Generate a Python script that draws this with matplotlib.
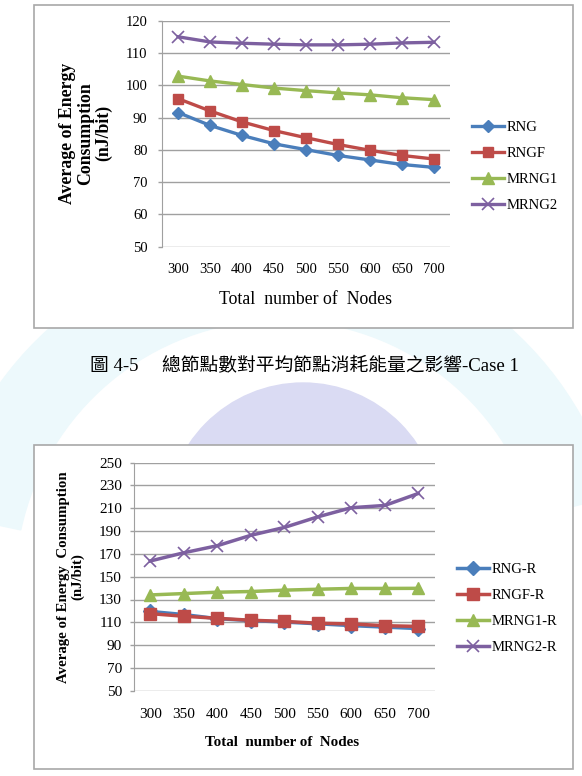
import matplotlib
matplotlib.use('Agg')
import matplotlib.pyplot as plt
from matplotlib.patches import Rectangle, Ellipse, Wedge

plt.rcParams['font.family'] = ['Liberation Serif', 'Noto Sans CJK TC']

# data
nodes = ['300', '350', '400', '450', '500', '550', '600', '650', '700']

# case 1
rng = [91.6, 87.6, 84.5, 81.9, 80.1, 78.3, 76.9, 75.5, 74.6]
rngf = [95.9, 92.1, 88.7, 86.0, 83.8, 81.7, 79.9, 78.3, 77.2]
mrng1 = [102.9, 101.4, 100.3, 99.2, 98.4, 97.7, 97.1, 96.2, 95.6]
mrng2 = [115.1, 113.5, 113.1, 112.8, 112.6, 112.6, 112.8, 113.2, 113.4]
names1 = ['RNG', 'RNGF', 'MRNG1', 'MRNG2']

# case R
rng_r = [119.5, 116.8, 113.2, 111.5, 110.2, 108.7, 107.1, 105.8, 104.5]
rngf_r = [117.6, 115.3, 113.5, 111.8, 110.8, 109.2, 108.6, 107.0, 106.4]
mrng1_r = [134.0, 135.2, 136.4, 137.0, 138.2, 139.0, 139.7, 139.7, 139.8]
mrng2_r = [163.8, 171.0, 177.2, 186.3, 193.2, 202.5, 210.5, 212.5, 223.0]
names2 = ['RNG-R', 'RNGF-R', 'MRNG1-R', 'MRNG2-R']

caption = '圖 4-5　 總節點數對平均節點消耗能量之影響-Case 1'

colors = ['#4A7EBB', '#BE4B48', '#98B954', '#7D60A0']
markers = ['D', 's', '^', 'x']
msizes = [6.5, 7.5, 8, 8]

W, H = 582, 776
fig = plt.figure(figsize=(W / 100, H / 100), dpi=100)


def px(x, y):
    # image pixel -> figure fraction
    return x / W, 1 - y / H


# faint watermark behind the boxes
fig.add_artist(Wedge((280, H - 585), 345, 15, 168, width=80,
                     transform=None, color='#edf9fc', zorder=-5))
fig.add_artist(Ellipse((303, H - 522), 275, 278, transform=None,
                       color='#dadbf3', zorder=-4))

# white boxes with grey border
for top, bot in [(5, 328), (445, 769)]:
    x0, y0 = px(34, bot)
    fig.add_artist(Rectangle((x0, y0), (573 - 34) / W, (bot - top) / H,
                             transform=fig.transFigure, fc='white',
                             ec='#a8a8a8', lw=1.2, zorder=-2))


def draw(ax, series, names, ylo, yhi, step, ypad, xpad, tsize, leg_xy,
         lw, ms_scale):
    xs = range(len(nodes))
    for vals, name, c, m, ms in zip(series, names, colors, markers, msizes):
        ax.plot(xs, vals, color=c, lw=lw, marker=m, ms=ms * ms_scale,
                mec=c, mfc=c, mew=1.2 if m == 'x' else 1, label=name)
    ax.set_xlim(-0.5, len(nodes) - 0.5)
    ax.set_ylim(ylo, yhi)
    ax.set_yticks(range(ylo, yhi + 1, step))
    ax.set_xticks(list(xs))
    ax.set_xticklabels(nodes)
    ax.set_facecolor('none')
    ax.grid(axis='y', color='#a0a0a0', lw=1.0)
    ax.set_axisbelow(True)
    for s in ['top', 'right', 'bottom']:
        ax.spines[s].set_visible(False)
    ax.spines['left'].set_color('#a0a0a0')
    ax.tick_params(axis='y', length=3, width=1, color='#a0a0a0',
                   pad=ypad, labelsize=tsize)
    ax.tick_params(axis='x', length=0, pad=xpad, labelsize=tsize)
    ax.legend(loc='center left', bbox_to_anchor=px(*leg_xy),
              bbox_transform=fig.transFigure, frameon=False, borderpad=0,
              borderaxespad=0, handlelength=2.2, handletextpad=0.15,
              labelspacing=0.88, fontsize=10.5, numpoints=1)


# chart 1
l, b = px(162.2, 246.7)
ax1 = fig.add_axes([l, b, (449.9 - 162.2) / W, (246.7 - 21) / H])
draw(ax1, [rng, rngf, mrng1, mrng2], names1, 50, 120, 10, 7.5, 11.5, 10.5,
     (472, 166.5), 2.4, 1.0)
fig.text(*px(85.4, 133.3), 'Average of Energy\nConsumption\n(nJ/bit)',
         rotation=90, ha='center', va='center', fontsize=12.8,
         fontweight='bold', linespacing=1.08)
fig.text(*px(305.9, 300), 'Total  number of  Nodes', ha='center',
         va='center', fontsize=12.8)

# caption
fig.text(*px(304.4, 366.7), caption, ha='center', va='center',
         fontsize=13.5)

# chart 2
l, b = px(133.6, 690.7)
ax2 = fig.add_axes([l, b, (435 - 133.6) / W, (690.7 - 462.7) / H])
draw(ax2, [rng_r, rngf_r, mrng1_r, mrng2_r], names2, 50, 250, 20, 5.4,
     12.5, 11, (457, 608.3), 2.5, 1.1)
fig.text(*px(70.9, 576.7), 'Average of Energy  Consumption\n(nJ/bit)',
         rotation=90, ha='center', va='center', fontsize=10.7,
         fontweight='bold', linespacing=1.05)
fig.text(*px(281.7, 743), 'Total  number of  Nodes', ha='center',
         va='center', fontsize=10.8, fontweight='bold')

fig.savefig('out.png', dpi=100)
